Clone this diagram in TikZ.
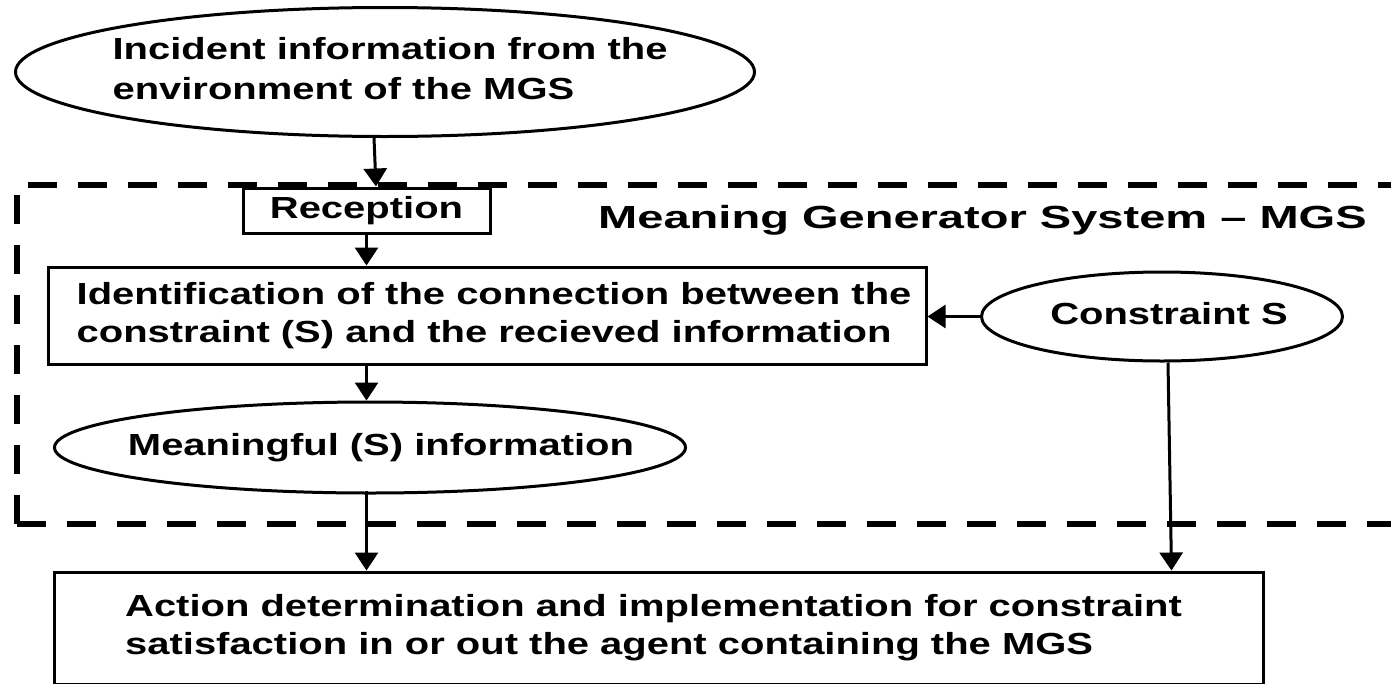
\documentclass[tikz,border=0pt]{standalone}
\usepackage{fontspec}
\setmainfont{Liberation Sans}[FakeStretch=1.31]
\newfontfamily\titlefont{Liberation Sans}[FakeStretch=1.47]
\usetikzlibrary{shapes.geometric,arrows.meta,calc}
\newcommand\ztext[2][0pt]{\makebox[0pt]{\hspace{#1}\begin{tabular}{@{}l@{}}#2\end{tabular}}}
\tikzset{
  txt/.style={font=\fontsize{30.5}{38}\selectfont\bfseries},
  box/.style={txt, draw, line width=3pt, inner sep=0pt, align=left},
  ell/.style={box, ellipse},
  arr/.style={line width=3pt, -{Triangle[length=18pt,width=23pt]}},
  mgsframe/.style={line width=6pt, dash pattern=on 29pt off 21pt},
}
\begin{document}
\begin{tikzpicture}[x=1pt,y=-1pt]
\clip (0,0) rectangle (1391,683);
% MGS frame
\draw[mgsframe] (17,524) -- (17,185) -- (1430,185) (17,524) -- (1430,524);
% nodes
\node[ell, minimum width=739pt, minimum height=129pt] (inc) at (385,72)
  {\makebox[0pt]{\hspace{10pt}\raisebox{-2pt}{\begin{tabular}{@{}l@{}}Incident information from the\\[2pt]environment of the MGS\end{tabular}}}};
\node[box, minimum width=247pt, minimum height=45pt] (rec) at (366.5,210.5) {Reception};
\node[anchor=base west, inner sep=0pt, font=\titlefont\fontsize{32}{38}\selectfont\bfseries] (title) at (598,228)
  {Meaning Generator System – MGS};
\node[box, minimum width=878pt, minimum height=97pt] (ident) at (487,315.5)
  {\hspace*{14pt}Identification of the connection between the\\\hspace*{14pt}constraint (S) and the recieved information};
\node[ell, minimum width=361pt, minimum height=89pt] (cs) at (1162,316.5)
  {\ztext[14pt]{Constraint S}};
\node[ell, minimum width=631pt, minimum height=91pt] (mean) at (370,447.5)
  {\ztext[22pt]{Meaningful (S) information}};
\node[box, minimum width=1209pt, minimum height=112pt] (act) at (658.5,628)
  {Action determination and implementation for constraint\hspace*{10pt}\\satisfaction in or out the agent containing the MGS};
% connectors
\draw[arr] ([xshift=-11pt]inc.south) -- ([xshift=9.5pt]rec.north);
\draw[arr] (rec.south) -- (rec.south |- ident.north);
\draw[arr] (ident.south -| rec.south) -- (mean.north -| rec.south);
\draw[arr] ([yshift=4pt]mean.south -| rec.south) -- (act.north -| rec.south);
\draw[arr] (cs.west) -- (ident.east |- cs.west);
\draw[arr] ([xshift=6pt]cs.south) -- ([xshift=1119pt]act.north west);
\end{tikzpicture}
\end{document}
